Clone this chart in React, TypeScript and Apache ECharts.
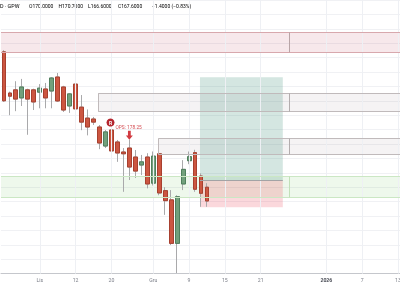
import React, { useEffect, useRef } from "react";
import * as echarts from "echarts";

// ---- data ----
const tradingDates = [
  "2025-10-24", "2025-10-27", "2025-10-28", "2025-10-29", "2025-10-30", "2025-10-31",
  "2025-11-03", "2025-11-04", "2025-11-05", "2025-11-06", "2025-11-07", "2025-11-10",
  "2025-11-12", "2025-11-13", "2025-11-14", "2025-11-17", "2025-11-18", "2025-11-19",
  "2025-11-20", "2025-11-21", "2025-11-24", "2025-11-25", "2025-11-26", "2025-11-27",
  "2025-11-28", "2025-12-01", "2025-12-02", "2025-12-03", "2025-12-04", "2025-12-05",
  "2025-12-08", "2025-12-09", "2025-12-10", "2025-12-11", "2025-12-12",
];
const futureDates = [
  "2025-12-13", "2025-12-14", "2025-12-15", "2025-12-16", "2025-12-17", "2025-12-18",
  "2025-12-19", "2025-12-20", "2025-12-21", "2025-12-22", "2025-12-23", "2025-12-24",
  "2025-12-25", "2025-12-26", "2025-12-27", "2025-12-28", "2025-12-29", "2025-12-30",
  "2025-12-31", "2026-01-01", "2026-01-02", "2026-01-03", "2026-01-04", "2026-01-05",
  "2026-01-06", "2026-01-07", "2026-01-08", "2026-01-09", "2026-01-10", "2026-01-11",
  "2026-01-12", "2026-01-13",
];
const tickDates = ["2025-11-03", "2025-11-12", "2025-11-20", "2025-12-01", "2025-12-09", "2025-12-15", "2025-12-21", "2026-01-01", "2026-01-07", "2026-01-13"];
const tickTexts = ["Lis", "12", "20", "Gru", "9", "15", "21", "2026", "7", "13"];

const opens = [193.5, 186.35, 186.9, 185.5, 186.9, 186.9, 186.5, 187.05, 186.7, 189.13, 187.4, 184.1, 187.9, 183.9, 182.0, 181.84, 180.45, 177.15, 179.93, 177.85, 176.11, 176.8, 175.24, 173.85, 175.24, 170.7, 175.8, 169.4, 167.8, 160.25, 170.56, 174.6, 176.0, 171.94, 170.0];
const closes = [185.0, 185.8, 185.3, 187.4, 185.3, 184.8, 187.2, 185.5, 188.96, 184.97, 183.4, 186.2, 183.6, 181.3, 180.45, 181.3, 177.67, 179.6, 176.3, 175.94, 175.8, 173.5, 172.8, 174.4, 170.56, 175.4, 169.0, 167.66, 160.25, 168.35, 173.1, 175.3, 169.64, 168.94, 167.6];
const lows = [184.8, 182.5, 183.2, 184.1, 179.1, 183.4, 183.7, 183.7, 183.7, 184.8, 183.06, 182.9, 183.2, 179.9, 179.0, 180.8, 176.6, 176.8, 173.3, 174.4, 169.2, 171.25, 171.6, 172.1, 169.8, 170.3, 168.6, 165.2, 159.95, 155.1, 169.5, 174.0, 169.2, 166.6, 166.6];
const highs = [193.8, 186.6, 188.4, 188.8, 187.1, 187.1, 187.9, 188.1, 189.1, 189.83, 187.6, 186.35, 188.3, 186.0, 183.5, 182.2, 180.8, 179.93, 180.45, 178.2, 176.8, 178.25, 176.46, 175.6, 175.9, 176.2, 176.5, 170.0, 169.5, 168.6, 174.7, 176.2, 176.5, 172.4, 170.7];

// price zones (low, high) and their start slot (null = from the left edge)
const zoneLows = [193.42, 183.1, 175.68, 168.21];
const zoneHighs = [196.89, 186.3, 178.45, 171.86];
const zoneStarts: (number | null)[] = [null, 15.8, 25.85, null];
const zoneEdge = 47.83;

// long position tool
const posStart = 32.83;
const posEnd = 46.7;
const posTarget = 189.08;
const posEntry = 171.13;
const posStop = 166.5;

// annotation
const opsValue = 178.25;
const opsSlot = 21;
const markerSlot = 17.84;
const markerPrice = 181.23;
const opsTextSlot = 18.6;
const opsTextPrice = 180.28;

const header = { symbol: "D · GPW", o: "170.0000", h: "170.7000", l: "166.6000", c: "167.6000", chg: "−1.4000 (−0.83%)" };

const RED = "#cc5641";
const RED_B = "#a8402f";
const GREEN = "#72a07c";
const GREEN_B = "#4f7f5d";
const WICK = "#a9a9ab";

const X_MIN = -0.5;
const X_MAX = 66.5;

export default function App() {
  const ref = useRef<HTMLDivElement>(null);
  useEffect(() => {
    if (!ref.current) return;
    const chart = echarts.init(ref.current, undefined, { renderer: "svg" });
    const categories = [...tradingDates, ...futureDates];
    const candleData = opens.map((o, i) => [o, closes[i], lows[i], highs[i]]);
    const bodyData = opens.map((o, i) => [o, closes[i], Math.min(o, closes[i]), Math.max(o, closes[i])]);

    const zoneStyles = [
      { color: "rgba(180,30,60,0.10)", border: "#d8a8ad", edge: "#b8a4a6" },
      { color: "rgba(120,90,100,0.07)", border: "#c0babb", edge: "#b3adae" },
      { color: "rgba(120,90,100,0.07)", border: "#c0babb", edge: "#b3adae" },
      { color: "rgba(90,190,70,0.10)", border: "#cbe7c4", edge: "#c2e0b9" },
    ];
    const zoneAreas: any[] = zoneLows.map((lo, i) => [
      { coord: [zoneStarts[i] ?? X_MIN, zoneHighs[i]], itemStyle: { color: zoneStyles[i].color, borderWidth: 0 } },
      { coord: [X_MAX, lo] },
    ]);
    zoneAreas.push([
      { coord: [posStart, posTarget], itemStyle: { color: "rgba(60,140,120,0.22)", borderWidth: 0 } },
      { coord: [posEnd, posEntry] },
    ]);
    zoneAreas.push([
      { coord: [posStart, posEntry], itemStyle: { color: "rgba(235,60,80,0.2)", borderWidth: 0 } },
      { coord: [posEnd, posStop] },
    ]);
    const seg = (x1: number, y1: number, x2: number, y2: number, color: string) => [
      { coord: [x1, y1], lineStyle: { color, width: 1, type: "solid" } },
      { coord: [x2, y2] },
    ];
    const zoneLines: any[] = [];
    zoneLows.forEach((lo, i) => {
      const st = zoneStyles[i];
      const x0 = zoneStarts[i] ?? X_MIN;
      zoneLines.push(seg(x0, zoneHighs[i], X_MAX, zoneHighs[i], st.border));
      zoneLines.push(seg(x0, lo, X_MAX, lo, st.border));
      if (zoneStarts[i] !== null) zoneLines.push(seg(x0, lo, x0, zoneHighs[i], st.border));
      zoneLines.push(seg(zoneEdge, lo, zoneEdge, zoneHighs[i], st.edge));
    });
    zoneLines.push(seg(posStart, posEntry, posEnd, posEntry, "#a3a3a5"));

    const tickIdx = tickDates.map((d) => categories.indexOf(d));
    const gridLines = tickIdx.map((i) => [{ coord: [i, 155] }, { coord: [i, 202.5] }]);

    const headerItems = [
      { x: 0, text: `{s|${header.symbol}}` },
      { x: 29, text: `{l|O}{v|${header.o}}` },
      { x: 58.5, text: `{l|H}{v|${header.h}}` },
      { x: 88, text: `{l|L}{v|${header.l}}` },
      { x: 118, text: `{l|C}{v|${header.c}}` },
      { x: 152, text: `{v|${header.chg}}` },
    ];
    const FS = 5;
    const rich = {
      s: { fontSize: 5.4, color: "#3a3d46", fontFamily: "Roboto" },
      l: { fontSize: FS, color: "#6a6d76", fontFamily: "Roboto" },
      v: { fontSize: FS, color: "#d9474f", fontFamily: "Roboto" },
    };

    chart.setOption({
      animation: false,
      textStyle: { fontFamily: "Roboto" },
      grid: { left: 1, top: 0, width: 400, height: 273.6, containLabel: false, outerBoundsMode: "none" },
      xAxis: [
        {
          type: "category",
          data: categories,
          boundaryGap: true,
          axisLine: { lineStyle: { color: "#c5c7cc", width: 1 } },
          axisTick: { show: false },
          splitLine: { show: false },
          axisLabel: {
            interval: (_i: number, v: string) => tickDates.includes(v),
            formatter: (v: string) => {
              const t = tickTexts[tickDates.indexOf(v)] ?? "";
              return t === "2026" ? `{b|${t}}` : t;
            },
            color: "#7b7e88",
            fontSize: 5.2,
            margin: 3.4,
            rich: { b: { fontWeight: "bold", fontSize: 5.2, color: "#4a4d56" } },
          },
        },
        { type: "value", min: X_MIN, max: X_MAX, show: false },
      ],
      yAxis: {
        type: "value",
        min: 155,
        max: 202.5,
        interval: 2.5,
        axisLabel: { show: false },
        axisLine: { show: false },
        axisTick: { show: false },
        splitLine: { lineStyle: { color: "#f0f1f4", width: 1 } },
      },
      graphic: headerItems.map((h) => ({
        type: "text",
        left: h.x,
        top: 3.5,
        style: { text: h.text, rich, fontSize: FS, fontFamily: "Roboto" },
      })),
      series: [
        {
          type: "line",
          xAxisIndex: 1,
          data: [],
          z: 1,
          silent: true,
          markLine: {
            silent: true,
            symbol: ["none", "none"],
            label: { show: false },
            lineStyle: { color: "#eef0f4", width: 1, type: "solid" },
            data: gridLines,
          },
        },
        {
          type: "candlestick",
          data: candleData,
          barWidth: 4.4,
          clip: false,
          z: 2,
          itemStyle: { color: WICK, color0: WICK, borderColor: WICK, borderColor0: WICK, borderWidth: 1 },
        },
        {
          type: "candlestick",
          data: bodyData,
          barWidth: 4.4,
          clip: false,
          z: 3,
          itemStyle: { color: GREEN, color0: RED, borderColor: GREEN_B, borderColor0: RED_B, borderWidth: 1 },
        },
        {
          type: "line",
          xAxisIndex: 1,
          data: [],
          z: 5,
          silent: true,
          markArea: { silent: true, data: zoneAreas },
          markLine: { silent: true, symbol: ["none", "none"], label: { show: false }, data: zoneLines },
          markPoint: {
            silent: true,
            data: [
              {
                coord: [markerSlot, markerPrice],
                symbol: "circle",
                symbolSize: 8,
                itemStyle: { color: "#b5262f" },
                label: { show: true, position: "inside", formatter: "R", color: "#fff", fontSize: 5, fontWeight: "bold" },
              },
              {
                coord: [opsTextSlot, opsTextPrice],
                symbol: "circle",
                symbolSize: 1,
                itemStyle: { color: "rgba(0,0,0,0)" },
                label: { show: true, position: "right", distance: 0, formatter: `OPS: ${opsValue}`, color: "#d44a50", fontSize: 4.8 },
              },
              {
                coord: [opsSlot, opsValue],
                symbol: "path://M3,0L7,0L7,6L10,6L5,11L0,6L3,6Z",
                symbolSize: [7, 9],
                symbolOffset: [0, "-50%"],
                itemStyle: { color: "#d23a40" },
                label: { show: false },
              },
            ],
          },
        },
      ],
    });
    return () => chart.dispose();
  }, []);
  return <div ref={ref} style={{ position: "fixed", left: 0, top: 0, width: 400, height: 284 }} />;
}
